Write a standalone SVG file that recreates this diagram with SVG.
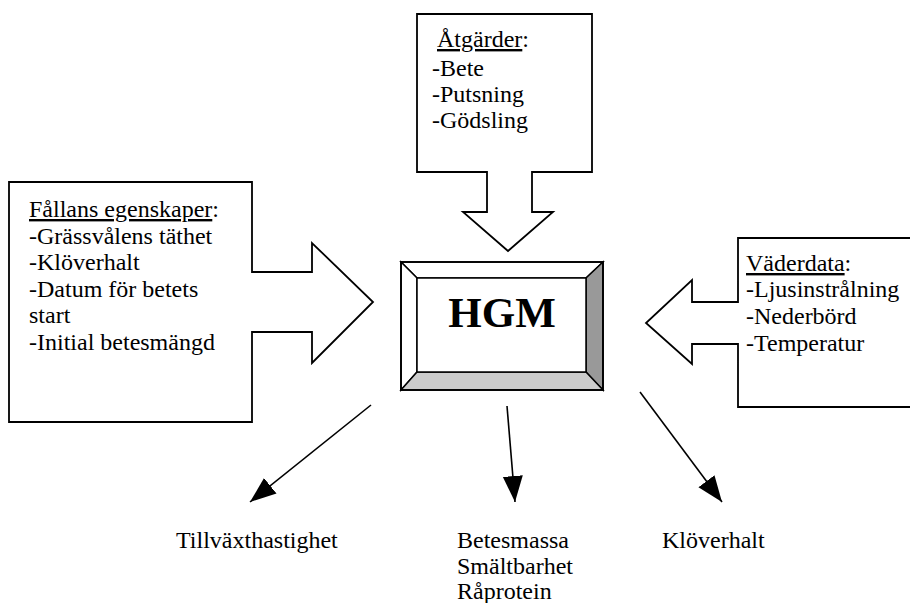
<svg xmlns="http://www.w3.org/2000/svg" width="910" height="603" viewBox="0 0 910 603">
<style>
.t{font-family:"Liberation Serif","Times New Roman",serif;font-size:24px;fill:#000}
.u{text-decoration:underline}
.ol{fill:#fff;stroke:#000;stroke-width:1.8;stroke-linejoin:miter}
.bv{stroke:#000;stroke-width:1.5;stroke-linejoin:miter}
.ar{stroke:#000;stroke-width:1.6;fill:none}
</style>
<defs>
<marker id="ah" markerUnits="userSpaceOnUse" markerWidth="28" markerHeight="22" refX="26" refY="10" orient="auto">
<path d="M0,0 L26,10 L0,20 Z" fill="#000"/>
</marker>
</defs>
<rect width="910" height="603" fill="#fff"/>
<g id="atgarder">
<path class="ol" d="M417,14 H592 V172 H532 V212 H553 L508,251 L463,212 H487 V172 H417 Z"/>
<text class="t" x="437" y="47"><tspan class="u">Åtgärder</tspan>:</text>
<text class="t" x="432" y="76">-Bete</text>
<text class="t" x="432" y="102">-Putsning</text>
<text class="t" x="432" y="128">-Gödsling</text>
</g>
<g id="fallans">
<path class="ol" d="M9,182 H252 V272 H312 V243 L373,302 L312,363 V332 H252 V422 H9 Z"/>
<text class="t" x="29" y="217"><tspan class="u">Fållans egenskaper</tspan>:</text>
<text class="t" x="29" y="244">-Grässvålens täthet</text>
<text class="t" x="29" y="270">-Klöverhalt</text>
<text class="t" x="29" y="297">-Datum för betets</text>
<text class="t" x="29" y="323">start</text>
<text class="t" x="29" y="350">-Initial betesmängd</text>
</g>
<g id="vaderdata">
<path class="ol" d="M738,238 H915 V407 H738 V344 H692 V364 L646,323 L692,280 V302 H738 Z"/>
<text class="t" x="746" y="271"><tspan class="u">Väderdata</tspan>:</text>
<text class="t" x="746" y="297">-Ljusinstrålning</text>
<text class="t" x="746" y="324">-Nederbörd</text>
<text class="t" x="746" y="351">-Temperatur</text>
</g>
<g id="hgm">
<rect x="401" y="262" width="202" height="128" fill="#fff"/>
<polygon class="bv" fill="#fff" points="401,262 603,262 586,278 417,278"/>
<polygon class="bv" fill="#fff" points="401,262 417,278 417,372 401,390"/>
<polygon class="bv" fill="#999" points="603,262 603,390 586,372 586,278"/>
<polygon class="bv" fill="#ccc" points="401,390 603,390 586,372 417,372"/>
<rect class="bv" x="417" y="278" width="169" height="94" fill="#fff"/>
<rect x="401" y="262" width="202" height="128" fill="none" stroke="#000" stroke-width="1.8"/>
<text x="502" y="327" text-anchor="middle" style="font-family:'Liberation Serif','Times New Roman',serif;font-size:43px;font-weight:bold">HGM</text>
</g>
<g id="connectors">
<line class="ar" x1="371" y1="405" x2="250" y2="502" marker-end="url(#ah)"/>
<line class="ar" x1="507" y1="406" x2="515" y2="502" marker-end="url(#ah)"/>
<line class="ar" x1="640" y1="392" x2="722" y2="502" marker-end="url(#ah)"/>
</g>
<g id="outputs">
<text class="t" x="176" y="548">Tillväxthastighet</text>
<text class="t" x="457" y="548">Betesmassa</text>
<text class="t" x="457" y="574">Smältbarhet</text>
<text class="t" x="457" y="599">Råprotein</text>
<text class="t" x="662" y="548">Klöverhalt</text>
</g>
</svg>
